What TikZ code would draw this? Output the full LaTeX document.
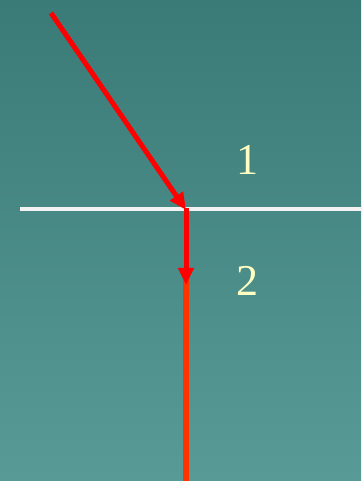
\documentclass[tikz,border=0pt]{standalone}
\usepackage{fontspec}
\setmainfont{Liberation Serif}
\usetikzlibrary{arrows.meta}
\definecolor{TealTop}{HTML}{3A7A77}
\definecolor{TealBot}{HTML}{589B96}
\definecolor{Ray}{HTML}{FF0000}
\definecolor{RayOut}{HTML}{FF3300}
\definecolor{Cream}{HTML}{FFFFC4}
\tikzset{
  ray/.style={draw=Ray,line width=5pt,-{Triangle[length=17pt,width=15pt]}},
  medium/.style={text=Cream,font=\fontsize{44}{44}\selectfont,inner sep=0pt}
}
\begin{document}
\begin{tikzpicture}[x=1pt,y=1pt]
        \shade[top color=TealTop,bottom color=TealBot] (0,0) rectangle (361,481);
        \useasboundingbox (0,0) rectangle (361,481);
        % interface
        \coordinate (left) at (20,272);
        \coordinate (right) at (361,272);
        \draw[white!90!gray,line width=4pt] (left)--(right);
        % ray path
        \coordinate (src) at (51,468);
        \coordinate (hit) at (186,271);
        \coordinate (mid) at (186,196);
        \coordinate (bot) at (186,0);
        \draw[RayOut,line width=6pt] ([yshift=6pt]mid)--(bot);
        \draw[ray] (src)--(hit);
        \draw[ray] ([yshift=2pt]hit)--(mid);
        \node[medium] (m1) at (247,321) {1};
        \node[medium] (m2) at (247,200) {2};
      \end{tikzpicture}
\end{document}
